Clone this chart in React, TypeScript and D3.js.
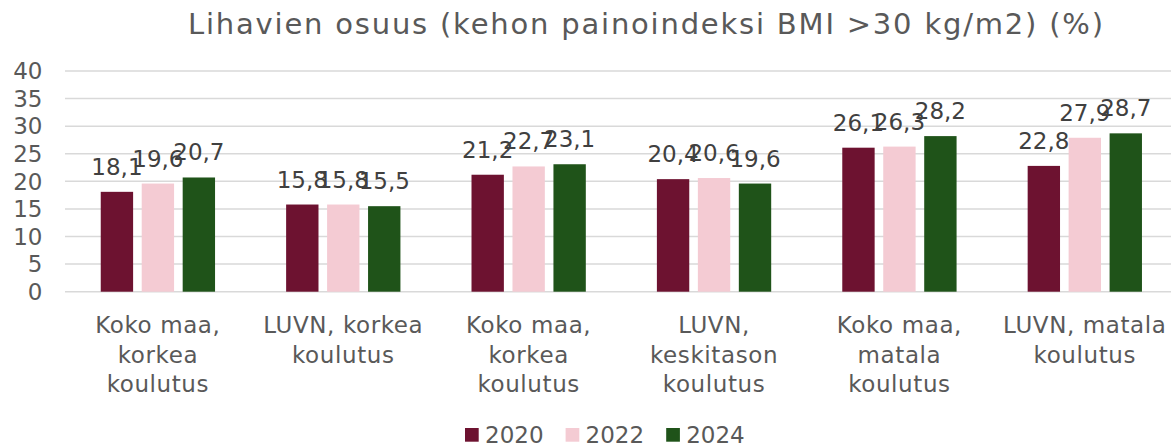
import React from "react";
import * as d3 from "d3";

const title = "Lihavien osuus (kehon painoindeksi BMI >30 kg/m2) (%)";
const categories: string[][] = [
  ["Koko maa,", "korkea", "koulutus"],
  ["LUVN, korkea", "koulutus"],
  ["Koko maa,", "korkea", "koulutus"],
  ["LUVN,", "keskitason", "koulutus"],
  ["Koko maa,", "matala", "koulutus"],
  ["LUVN, matala", "koulutus"],
];
const seriesNames = ["2020", "2022", "2024"];
const values2020 = [18.1, 15.8, 21.2, 20.4, 26.1, 22.8];
const values2022 = [19.6, 15.8, 22.7, 20.6, 26.3, 27.9];
const values2024 = [20.7, 15.5, 23.1, 19.6, 28.2, 28.7];
const yTicks = [0, 5, 10, 15, 20, 25, 30, 35, 40];
const colors = ["#6D1230", "#F4CBD3", "#1F5319"];

const W = 1171;
const H = 448;
const FONT = "'DejaVu Sans', Verdana, sans-serif";

export default function App() {
  const series = [values2020, values2022, values2024];
  const x0 = d3
    .scaleBand<number>()
    .domain(categories.map((_, i) => i))
    .range([65.2, 1177.5])
    .padding(0);
  const groupW = 114.3;
  const x1 = d3
    .scaleBand<number>()
    .domain([0, 1, 2])
    .range([0, groupW])
    .paddingInner(0.21)
    .paddingOuter(0);
  const y = d3.scaleLinear().domain([0, 40]).range([291.7, 71]);
  const off = (x0.bandwidth() - groupW) / 2;
  const fmt = (v: number) => v.toFixed(1).replace(".", ",");

  return (
    <svg
      width={W}
      height={H}
      style={{ position: "absolute", left: 0, top: 0, background: "#fff" }}
      fontFamily={FONT}
    >
      <text
        x={188}
        y={33.5}
        fontSize={29}
        fill="#595959"
        textLength={915}
        lengthAdjust="spacing"
      >
        {title}
      </text>
      {yTicks.map((t) => (
        <g key={t}>
          <line x1={65} x2={W} y1={y(t)} y2={y(t)} stroke="#d9d9d9" strokeWidth={1.5} />
          <text x={42.5} y={y(t)} dy="0.36em" textAnchor="end" fontSize={23} fill="#595959">
            {t}
          </text>
        </g>
      ))}
      {categories.map((_, ci) =>
        series.map((vals, si) => (
          <rect
            key={`${ci}-${si}`}
            x={(x0(ci) as number) + off + (x1(si) as number)}
            y={y(vals[ci])}
            width={x1.bandwidth()}
            height={y(0) - y(vals[ci])}
            fill={colors[si]}
          />
        ))
      )}
      {categories.map((_, ci) =>
        series.map((vals, si) => (
          <text
            key={`l${ci}-${si}`}
            x={(x0(ci) as number) + off + (x1(si) as number) + x1.bandwidth() / 2}
            y={y(vals[ci]) - 17}
            textAnchor="middle"
            fontSize={23}
            fill="#404040"
          >
            {fmt(vals[ci])}
          </text>
        ))
      )}
      {categories.map((lines, ci) => (
        <text
          key={`c${ci}`}
          x={(x0(ci) as number) + x0.bandwidth() / 2}
          y={333}
          textAnchor="middle"
          fontSize={23}
          letterSpacing={0.6}
          fill="#595959"
        >
          {lines.map((ln, li) => (
            <tspan key={li} x={(x0(ci) as number) + x0.bandwidth() / 2} dy={li === 0 ? 0 : 29.5}>
              {ln}
            </tspan>
          ))}
        </text>
      ))}
      {seriesNames.map((n, i) => (
        <g key={n} transform={`translate(${465 + i * 100.6},0)`}>
          <rect x={0} y={428} width={13.7} height={13.7} fill={colors[i]} />
          <text x={20} y={443} fontSize={23} fill="#595959">
            {n}
          </text>
        </g>
      ))}
    </svg>
  );
}
